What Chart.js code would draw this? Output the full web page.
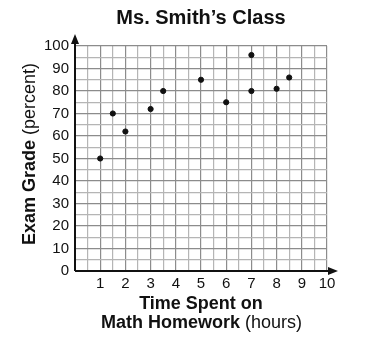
<!DOCTYPE html>
<html><head><meta charset="utf-8">
<script src="https://cdn.jsdelivr.net/npm/chart.js@4"></script>
<style>html,body{margin:0;padding:0;background:#fff}#wrap{width:371px;height:339px}</style>
</head><body><div id="wrap"><canvas id="c" width="371" height="339"></canvas></div>
<script>
const title = "Ms. Smith\u2019s Class";
const hours = [1, 1.5, 2, 3, 3.5, 5, 6, 7, 7, 8, 8.5];
const grades = [50, 70, 62, 72, 80, 85, 75, 96, 80, 81, 86];
const xTickLabels = ["1","2","3","4","5","6","7","8","9","10"];
const yTickLabels = ["0","10","20","30","40","50","60","70","80","90","100"];
const yTitleBold = "Exam Grade", yTitleNormal = " (percent)";
const xTitleLine1 = "Time Spent on", xTitleBold2 = "Math Homework", xTitleNormal2 = " (hours)";

const FONT = "'Liberation Sans', Arial, Helvetica, sans-serif";

const deco = {
  id: 'deco',
  afterDraw(chart) {
    const ctx = chart.ctx, a = chart.chartArea;
    ctx.save();
    ctx.fillStyle = '#111'; ctx.strokeStyle = '#111';
    // title
    ctx.font = "bold 20px " + FONT; ctx.textAlign = 'center'; ctx.textBaseline = 'middle';
    ctx.fillText(title, 201, 18);
    // axes with arrows
    ctx.lineWidth = 2;
    ctx.beginPath(); ctx.moveTo(a.left, a.bottom); ctx.lineTo(a.left, 40); ctx.stroke();
    ctx.beginPath(); ctx.moveTo(a.left, a.bottom); ctx.lineTo(333, a.bottom); ctx.stroke();
    ctx.beginPath(); ctx.moveTo(a.left, 34); ctx.lineTo(a.left - 4, 44); ctx.lineTo(a.left + 4, 44); ctx.closePath(); ctx.fill();
    ctx.beginPath(); ctx.moveTo(338, a.bottom); ctx.lineTo(328, a.bottom - 4); ctx.lineTo(328, a.bottom + 4); ctx.closePath(); ctx.fill();
    // y title
    ctx.save();
    ctx.translate(30, 154); ctx.rotate(-Math.PI / 2);
    ctx.textBaseline = 'middle'; ctx.textAlign = 'left';
    ctx.font = "bold 18px " + FONT; const w1 = ctx.measureText(yTitleBold).width;
    ctx.font = "18px " + FONT; const w2 = ctx.measureText(yTitleNormal).width;
    let sx = -(w1 + w2) / 2;
    ctx.font = "bold 18px " + FONT; ctx.fillText(yTitleBold, sx, 0);
    ctx.font = "18px " + FONT; ctx.fillText(yTitleNormal, sx + w1, 0);
    ctx.restore();
    // x title
    ctx.textBaseline = 'middle';
    ctx.font = "bold 18px " + FONT; ctx.textAlign = 'center';
    ctx.fillText(xTitleLine1, 201, 304);
    ctx.textAlign = 'left';
    ctx.font = "bold 18px " + FONT; const v1 = ctx.measureText(xTitleBold2).width;
    ctx.font = "18px " + FONT; const v2 = ctx.measureText(xTitleNormal2).width;
    let tx = 201.5 - (v1 + v2) / 2;
    ctx.font = "bold 18px " + FONT; ctx.fillText(xTitleBold2, tx, 323);
    ctx.font = "18px " + FONT; ctx.fillText(xTitleNormal2, tx + v1, 323);
    ctx.restore();
  }
};

new Chart(document.getElementById('c'), {
  type: 'scatter',
  data: { datasets: [{ data: hours.map((h, i) => ({ x: h, y: grades[i] })),
    backgroundColor: '#111', borderColor: '#111', pointRadius: 2.6, pointHoverRadius: 2.6 }] },
  options: {
    responsive: false, animation: false, events: [],
    layout: { padding: { top: 46, right: 44, left: 0, bottom: 0 } },
    plugins: { legend: { display: false }, tooltip: { enabled: false } },
    scales: {
      x: {
        type: 'linear', min: 0, max: 10,
        afterFit(s) { s.height = 68; },
        afterBuildTicks(s) { const t = []; for (let i = 0; i <= 20; i++) t.push({ value: i / 2 }); s.ticks = t; },
        ticks: { autoSkip: false, maxRotation: 0, padding: 4, color: '#111', font: { family: FONT, size: 15 },
          callback(v) { return (Number.isInteger(v) && v > 0) ? xTickLabels[v - 1] : ''; } },
        grid: { drawTicks: false, lineWidth: 1.2, color(c) { return Number.isInteger(c.tick.value) ? '#8c8c8c' : '#b5b5b5'; } },
        border: { display: false }
      },
      y: {
        type: 'linear', min: 0, max: 100,
        afterFit(s) { s.width = 75; },
        afterBuildTicks(s) { const t = []; for (let i = 0; i <= 20; i++) t.push({ value: i * 5 }); s.ticks = t; },
        ticks: { autoSkip: false, padding: 6, color: '#111', font: { family: FONT, size: 15 },
          callback(v) { return (v % 10 === 0) ? yTickLabels[v / 10] : ''; } },
        grid: { drawTicks: false, lineWidth: 1.2, color(c) { return c.tick.value % 10 === 0 ? '#8c8c8c' : '#b5b5b5'; } },
        border: { display: false }
      }
    }
  },
  plugins: [deco]
});
</script></body></html>
